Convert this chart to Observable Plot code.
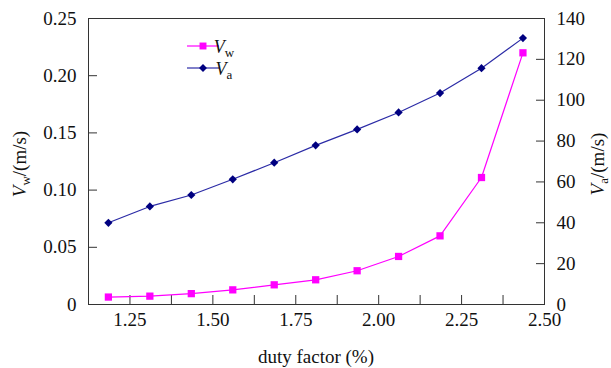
<!DOCTYPE html>
<html><head><meta charset="utf-8">
<script src="https://cdn.jsdelivr.net/npm/d3@7"></script>
<script src="https://cdn.jsdelivr.net/npm/@observablehq/plot@0.6"></script>
<style>body{margin:0;background:#fff} svg{display:block}</style>
</head><body><div id="chart"></div>
<script>
const dutyFactor = [1.185, 1.31, 1.435, 1.56, 1.685, 1.81, 1.935, 2.06, 2.185, 2.31, 2.435];
const Vw = [0.0065, 0.0073, 0.0095, 0.0128, 0.0172, 0.0216, 0.0295, 0.042, 0.060, 0.111, 0.220];
const Va = [40, 48, 53.6, 61.3, 69.4, 77.9, 85.7, 94, 103.5, 115.7, 130.4];
const xTicks = [1.25, 1.5, 1.75, 2.0, 2.25, 2.5];
const xAllTicks = [1.25, 1.375, 1.5, 1.625, 1.75, 1.875, 2.0, 2.125, 2.25, 2.375, 2.5];
const leftTicks = [0, 0.05, 0.10, 0.15, 0.20, 0.25];
const rightTicks = [0, 20, 40, 60, 80, 100, 120, 140];
const xDomain = [1.125, 2.5];
const VwMax = 0.25, VaMax = 140;

const toLeft = v => v * VwMax / VaMax;
const rows = dutyFactor.map((x, i) => ({x, vw: Vw[i], va: toLeft(Va[i])}));

const axisColor = "#333";
const fs = 19;
const font = "Liberation Serif, Times New Roman, serif";

const svg = Plot.plot({
  width: 611, height: 368,
  marginLeft: 88, marginRight: 67, marginTop: 18, marginBottom: 64,
  style: {fontFamily: font, fontSize: fs + "px", color: "#111", background: "#fff"},
  x: {domain: xDomain},
  y: {domain: [0, VwMax]},
  marks: [
    Plot.frame({stroke: axisColor, strokeWidth: 1}),
    Plot.axisX({ticks: xAllTicks, tickSize: -9, tickFormat: () => "", stroke: axisColor, label: null}),
    Plot.axisX({ticks: xTicks, tickSize: 0, tickPadding: 8, tickFormat: d => d.toFixed(2), label: null, fontSize: fs, fill: "#111"}),
    Plot.axisY({ticks: leftTicks, tickSize: -9, tickFormat: () => "", stroke: axisColor, label: null}),
    Plot.axisY({ticks: leftTicks, tickSize: 0, tickPadding: 12, tickFormat: d => d === 0 ? "0" : d.toFixed(2), label: null, fontSize: fs, fill: "#111"}),
    Plot.axisY({anchor: "right", ticks: rightTicks.map(toLeft), tickSize: -9, tickFormat: () => "", stroke: axisColor, label: null}),
    Plot.axisY({anchor: "right", ticks: rightTicks.map(toLeft), tickSize: 0, tickPadding: 12, tickFormat: d => String(Math.round(d * VaMax / VwMax)), label: null, fontSize: fs, fill: "#111"}),
    Plot.line(rows, {x: "x", y: "va", stroke: "#2b2ba6", strokeWidth: 1.2}),
    Plot.dot(rows, {x: "x", y: "va", symbol: "diamond2", r: 3.7, fill: "#000080", stroke: "none"}),
    Plot.line(rows, {x: "x", y: "vw", stroke: "#ff00ff", strokeWidth: 1.2}),
    Plot.dot(rows, {x: "x", y: "vw", symbol: "square", r: 4.1, fill: "#ff00ff", stroke: "none"})
  ]
});

const s = d3.select(svg);

s.append("text").attr("x", 316).attr("y", 363).attr("text-anchor", "middle")
  .attr("font-family", font).attr("font-size", fs).attr("fill", "#111").text("duty factor (%)");

function vTitle(x, sub) {
  const t = s.append("text").attr("transform", `translate(${x},164) rotate(-90)`)
    .attr("text-anchor", "middle").attr("font-family", font).attr("font-size", fs).attr("fill", "#111");
  t.append("tspan").attr("font-style", "italic").text("V");
  t.append("tspan").attr("font-size", 13).attr("dy", 4).text(sub);
  t.append("tspan").attr("dy", -4).text("/(m/s)");
}
vTitle(26, "w");
vTitle(604, "a");

const leg = [
  {label: "w", color: "#ff00ff", symbol: d3.symbolSquare, size: 48, y: 46, mk: "#ff00ff"},
  {label: "a", color: "#2b2ba6", symbol: d3.symbolDiamond2, size: 40, y: 68, mk: "#000080"}
];
for (const l of leg) {
  s.append("line").attr("x1", 187).attr("x2", 219).attr("y1", l.y).attr("y2", l.y)
    .attr("stroke", l.color).attr("stroke-width", 1.2);
  s.append("path").attr("d", d3.symbol(l.symbol, l.size)()).attr("transform", `translate(203,${l.y})`).attr("fill", l.mk);
  const t = s.append("text").attr("x", 224).attr("y", l.y + 7).attr("font-family", font).attr("font-size", 18).attr("fill", "#111");
  t.append("tspan").attr("font-style", "italic").text("V");
  t.append("tspan").attr("font-size", 13).attr("dy", 4).text(l.label);
}

document.getElementById("chart").append(svg);
</script>
</body></html>
